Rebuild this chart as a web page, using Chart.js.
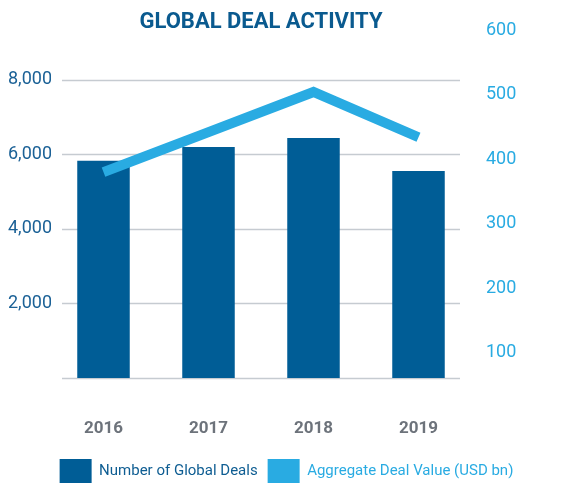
<!DOCTYPE html>
<html lang="en">
<head>
<meta charset="UTF-8" />
<script src="https://cdn.jsdelivr.net/npm/chart.js@4.4.1/dist/chart.umd.min.js"></script>
<title>Global Deal Activity</title>
<style>
  html, body { margin: 0; padding: 0; background: #fff; }
</style>
</head>
<body>
<canvas id="myChart" width="573" height="483"></canvas>
<script>
var years = ["2016", "2017", "2018", "2019"];
var dealCount = [5830, 6200, 6440, 5560];
var dealValue = [380, 442, 504, 434];
var countTicks = [0, 2000, 4000, 6000, 8000];
var valueTicks = [100, 200, 300, 400, 500, 600];

var DARK = "#005d96";
var LIGHT = "#29abe2";
var FONT = "Roboto, 'Liberation Sans', sans-serif";

// horizontal grid lines, a bit shorter than the plot area
var gridPlugin = {
  id: "shortGrid",
  beforeDatasetsDraw: function (chart) {
    var ctx = chart.ctx;
    var area = chart.chartArea;
    var y = chart.scales.y;
    ctx.save();
    ctx.strokeStyle = "#c6cbd1";
    ctx.lineWidth = 1.5;
    countTicks.forEach(function (v) {
      var py = Math.round(y.getPixelForValue(v)) + 0.5;
      ctx.beginPath();
      ctx.moveTo(area.left + 11, py);
      ctx.lineTo(area.right - 11, py);
      ctx.stroke();
    });
    ctx.restore();
  }
};

new Chart("myChart", {
  type: "bar",
  data: {
    labels: years,
    datasets: [
      {
        type: "bar",
        label: "Number of Global Deals",
        data: dealCount,
        backgroundColor: DARK,
        yAxisID: "y",
        barPercentage: 0.5,
        categoryPercentage: 1.0,
        order: 2
      },
      {
        type: "line",
        label: "Aggregate Deal Value (USD bn)",
        data: dealValue,
        borderColor: LIGHT,
        backgroundColor: LIGHT,
        borderWidth: 10,
        pointRadius: 0,
        tension: 0,
        fill: false,
        yAxisID: "y1",
        order: 1
      }
    ]
  },
  options: {
    responsive: false,
    animation: false,
    devicePixelRatio: 1,
    layout: { padding: { bottom: -10 } },
    scales: {
      x: {
        grid: { display: false, drawTicks: false },
        border: { display: false },
        afterFit: function (s) { s.height = 71; },
        ticks: {
          color: "#6d737b",
          font: { family: FONT, size: 17, weight: "bold" },
          padding: 41
        }
      },
      y: {
        position: "left",
        min: 0,
        max: 9342,
        grid: { display: false, drawTicks: false },
        border: { display: false },
        afterBuildTicks: function (s) {
          s.ticks = countTicks.map(function (v) { return { value: v }; });
        },
        afterFit: function (s) { s.width = 51; },
        ticks: {
          padding: -1,
          color: "#1b6196",
          font: { family: FONT, size: 18 },
          callback: function (v) { return v === 0 ? "" : v.toLocaleString("en-US"); }
        }
      },
      y1: {
        position: "right",
        min: 61.3,
        max: 600,
        grid: { display: false, drawTicks: false },
        border: { display: false },
        afterBuildTicks: function (s) {
          s.ticks = valueTicks.map(function (v) { return { value: v }; });
        },
        afterFit: function (s) { s.width = 102; },
        ticks: {
          padding: 15,
          color: LIGHT,
          font: { family: FONT, size: 18 }
        }
      }
    },
    plugins: {
      title: {
        display: true,
        fullSize: false,
        text: "GLOBAL DEAL ACTIVITY",
        color: "#0a5a8f",
        font: { family: FONT, size: 22, weight: "bold", lineHeight: 1 },
        padding: { top: 11, bottom: -3 }
      },
      tooltip: { enabled: false },
      legend: {
        position: "bottom",
        labels: {
          boxWidth: 32,
          boxHeight: 24,
          padding: 10,
          font: { family: FONT, size: 15 },
          generateLabels: function (chart) {
            return chart.data.datasets.map(function (ds, i) {
              return {
                text: ds.label,
                fillStyle: ds.type === "bar" ? DARK : LIGHT,
                strokeStyle: ds.type === "bar" ? DARK : LIGHT,
                lineWidth: 0,
                fontColor: ds.type === "bar" ? "#0e5d92" : LIGHT,
                datasetIndex: i,
                hidden: false
              };
            });
          }
        }
      }
    }
  },
  plugins: [gridPlugin]
});
</script>
</body>
</html>
